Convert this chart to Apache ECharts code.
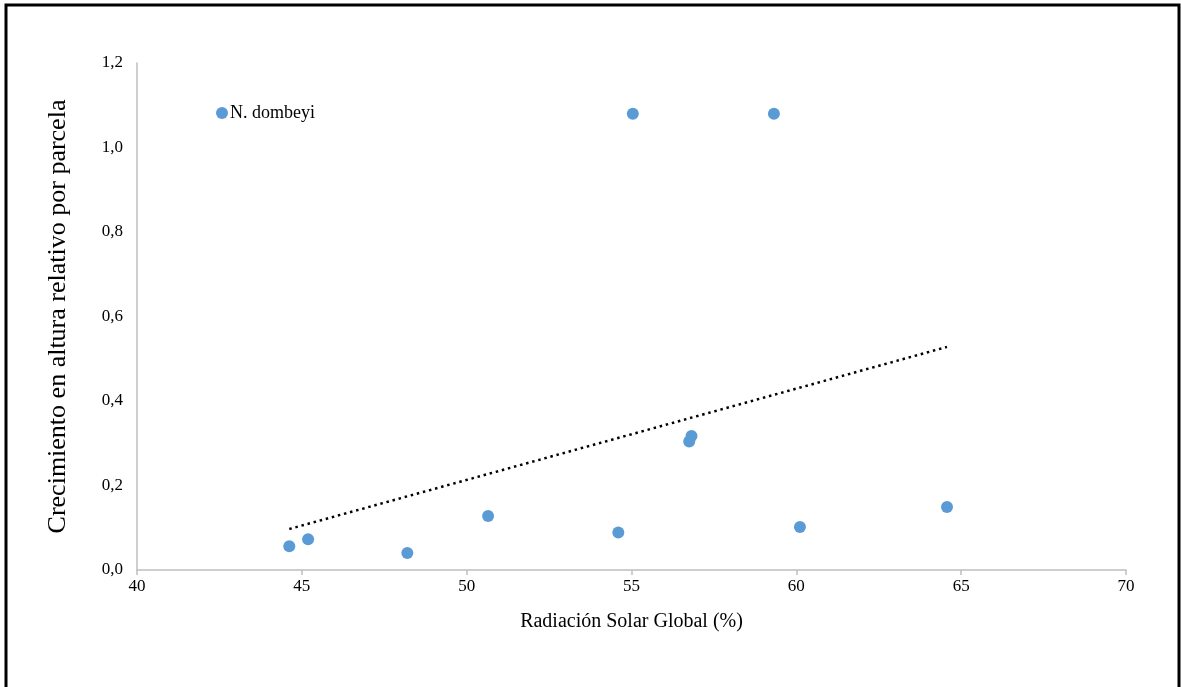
<!DOCTYPE html>
<html>
<head>
<meta charset="utf-8">
<script src="https://cdn.jsdelivr.net/npm/echarts@6/dist/echarts.min.js"></script>
<style>
html,body{margin:0;padding:0;background:#fff;}
#chart{width:1181px;height:687px;}
</style>
</head>
<body>
<div id="chart"></div>
<script>
const seriesName = 'N. dombeyi';
const radiacion = [44.62, 45.19, 48.2, 50.65, 54.6, 56.75, 56.82, 60.11, 64.57, 55.04, 59.32];
const crecimiento = [0.056, 0.073, 0.040, 0.128, 0.089, 0.304, 0.317, 0.102, 0.149, 1.080, 1.080];
const trendX = [44.62, 64.57];
const trendY = [0.097, 0.528];
const xTitle = 'Radiación Solar Global (%)';
const yTitle = 'Crecimiento en altura relativo por parcela';

const font = '"Liberation Serif","Times New Roman",serif';
const chart = echarts.init(document.getElementById('chart'), null, {renderer: 'canvas'});
chart.setOption({
  animation: false,
  backgroundColor: '#fff',
  graphic: [{
    type: 'rect', silent: true,
    shape: {x: 6, y: 5, width: 1173, height: 720},
    style: {fill: 'none', stroke: '#000', lineWidth: 3}
  }],
  grid: {left: 137, right: 55, top: 63, bottom: 117, containLabel: false},
  legend: {
    data: [seriesName],
    left: 216, top: 104, padding: 0,
    icon: 'circle', itemWidth: 12, itemHeight: 12,
    textStyle: {fontFamily: font, fontSize: 18, color: '#000', padding: [0, 0, 0, -3]}
  },
  xAxis: {
    type: 'value', min: 40, max: 70, interval: 5,
    name: xTitle, nameLocation: 'middle', nameGap: 42,
    nameTextStyle: {fontFamily: font, fontSize: 20, color: '#000'},
    axisLine: {show: true, lineStyle: {color: '#bfbfbf', width: 1.5}},
    axisTick: {show: true, length: 5, lineStyle: {color: '#bfbfbf', width: 1.5}},
    axisLabel: {fontFamily: font, fontSize: 17, color: '#000', margin: 8},
    splitLine: {show: false}
  },
  yAxis: {
    type: 'value', min: 0, max: 1.2, interval: 0.2,
    name: yTitle, nameLocation: 'middle', nameGap: 66,
    nameTextStyle: {fontFamily: font, fontSize: 26, color: '#000'},
    axisLine: {show: true, lineStyle: {color: '#bfbfbf', width: 1.5}},
    axisTick: {show: false},
    axisLabel: {fontFamily: font, fontSize: 17, color: '#000', margin: 14,
      formatter: v => v.toFixed(1).replace('.', ',')},
    splitLine: {show: false}
  },
  series: [
    {
      type: 'line', name: 'trend', silent: true,
      data: trendX.map((x, i) => [x, trendY[i]]),
      showSymbol: false, symbol: 'none',
      lineStyle: {color: '#000', width: 2.5, type: [2.5, 3.8], cap: 'butt'},
      z: 1
    },
    {
      type: 'scatter', name: seriesName,
      data: radiacion.map((x, i) => [x, crecimiento[i]]),
      symbol: 'circle', symbolSize: 12,
      itemStyle: {color: '#5B9BD5', opacity: 1},
      z: 2
    }
  ]
});
</script>
</body>
</html>
